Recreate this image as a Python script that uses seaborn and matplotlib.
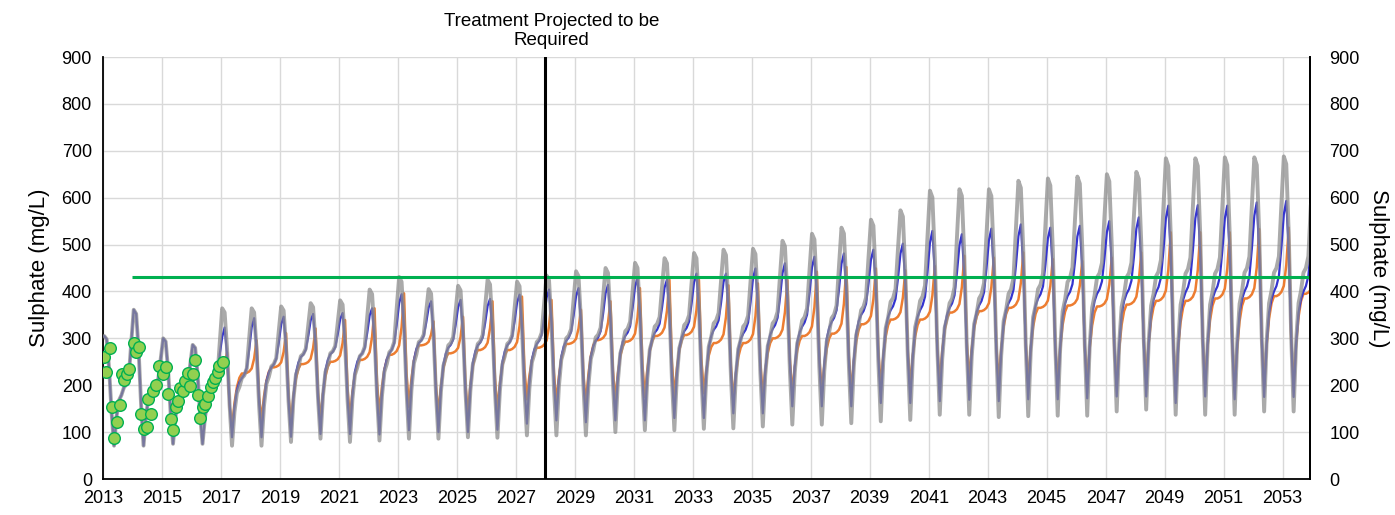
import numpy as np
import pandas as pd
import matplotlib
matplotlib.use("Agg")
import matplotlib.pyplot as plt
import seaborn as sns

# ---------------- data ----------------
cycle_years = list(range(2013, 2054))  # 2013..2053

# grey series: yearly peak (2013..2054), trough and late-year level (2013..2053)
grey_peak = [305, 361, 300, 286, 364, 364, 368, 375, 381, 404, 431, 405, 412, 425,
             421, 434, 443, 450, 461, 471, 482, 489, 491, 508, 523, 536, 553, 573,
             615, 618, 618, 636, 641, 645, 650, 655, 684, 684, 686, 686, 688, 690]
grey_trough = [71, 71, 75, 75, 71, 71, 79, 86, 79, 82, 86, 86, 89, 88, 93, 93, 93,
               100, 104, 104, 107, 108, 112, 116, 116, 119, 123, 126, 137, 137, 132,
               134, 135, 135, 144, 148, 137, 137, 137, 144, 144]
grey_level = [195, 200, 190, 188, 215, 240, 262, 268, 262, 270, 292, 285, 288, 288,
              292, 300, 302, 315, 325, 328, 332, 325, 332, 338, 343, 360, 378, 380,
              375, 385, 395, 405, 420, 430, 430, 432, 438, 438, 440, 440, 440]

# blue series
blue_peak = [305, 361, 300, 286, 323, 343, 346, 352, 354, 364, 394, 379, 382, 384,
             393, 404, 407, 414, 429, 425, 438, 438, 449, 460, 474, 481, 489, 502,
             529, 522, 534, 543, 536, 540, 550, 558, 583, 584, 583, 590, 593, 595]
blue_trough = [71, 71, 75, 75, 89, 89, 90, 96, 96, 95, 104, 100, 100, 105, 118, 125,
               121, 125, 125, 130, 130, 140, 140, 155, 155, 155, 162, 162, 166, 169,
               166, 170, 170, 172, 176, 176, 162, 176, 170, 175, 175]
blue_level = [195, 200, 190, 188, 215, 238, 260, 266, 262, 268, 290, 280, 285, 285,
              288, 295, 295, 305, 312, 315, 318, 310, 320, 325, 335, 350, 360, 360,
              365, 370, 375, 385, 390, 395, 395, 398, 398, 400, 400, 400, 400]
blue_own_shape_from = 2017   # before this the blue run follows the grey one

# orange series (from 2017)
orange_years = list(range(2017, 2054))
orange_peak = [270, 296, 311, 321, 339, 364, 396, 336, 346, 379, 389, 382, 361, 379,
               407, 425, 425, 413, 417, 424, 442, 452, 449, 445, 454, 476, 472, 483,
               469, 465, 472, 483, 526, 526, 526, 533, 536, 540]
orange_trough = [110, 125, 120, 125, 130, 139, 154, 139, 139, 146, 170, 161, 161, 168,
                 175, 175, 183, 169, 176, 183, 183, 183, 197, 198, 205, 212, 205, 205,
                 205, 205, 198, 215, 198, 201, 190, 198, 198]
orange_level = [225, 238, 245, 250, 254, 265, 285, 268, 275, 275, 280, 288, 296, 293,
                305, 307, 290, 290, 300, 305, 310, 330, 340, 340, 355, 358, 365, 365,
                370, 368, 372, 380, 380, 385, 385, 390, 395]
orange_level_before = 225

# within-year shape, Jan..Dec
shape_grey = [("pk", 1.0), ("pk", 0.97), ("pk", 0.7), ("pk", 0.3), ("pk", 0.0),
              ("up", 0.5), ("up", 0.78), ("up", 0.87), ("up", 1.0),
              ("ld", 0.04), ("ld", 0.14), ("ld", 0.58)]
shape_blue = [("pre", 0.85), ("pk", 1.0), ("pk", 0.75), ("pk", 0.3), ("pk", 0.0),
              ("up", 0.5), ("up", 0.8), ("up", 0.93), ("up", 1.0),
              ("ld", 0.06), ("ld", 0.17), ("ld", 0.48)]
shape_orange = [("pre", 0.15), ("pre", 0.45), ("pk", 1.0), ("pk", 0.3), ("pk", 0.0),
                ("up", 0.45), ("up", 0.75), ("up", 0.92), ("up", 1.0),
                ("ld", 0.0), ("ld", 0.02), ("ld", 0.06)]

# observed points
obs_year = [2013.05, 2013.11, 2013.23, 2013.29, 2013.38, 2013.49, 2013.56, 2013.63,
            2013.72, 2013.81, 2013.88, 2014.06, 2014.13, 2014.22, 2014.29, 2014.38,
            2014.48, 2014.54, 2014.64, 2014.71, 2014.80, 2014.89, 2015.05, 2015.12,
            2015.21, 2015.29, 2015.37, 2015.47, 2015.54, 2015.62, 2015.72, 2015.79,
            2015.87, 2015.95, 2016.06, 2016.13, 2016.21, 2016.30, 2016.39, 2016.47,
            2016.57, 2016.65, 2016.73, 2016.81, 2016.89, 2016.95, 2017.07]
obs_value = [261, 228, 280, 153, 87, 122, 157, 223, 211, 225, 235, 289, 271, 281,
             139, 106, 110, 170, 139, 188, 200, 240, 224, 239, 181, 129, 104, 153,
             166, 194, 187, 210, 226, 199, 224, 253, 179, 131, 154, 160, 176, 197,
             207, 216, 228, 242, 249]

threshold_value = 430
threshold_start = 2014.0
treatment_year = 2028.0
x_start, x_end = 2013.0, 2053.93
ytick_values = list(range(0, 1000, 100))
xtick_years = list(range(2013, 2054, 2))


def monthly(years, peak, trough, level, shapes, level_before=None):
    t, v = [], []
    for i, y in enumerate(years):
        P, T, L, Pn = peak[i], trough[i], level[i], peak[i + 1]
        Lp = level[i - 1] if i > 0 else (level_before if level_before is not None else L)
        shape = shapes(y)
        for m, (kind, f) in enumerate(shape):
            if kind == "pk":
                val = T + f * (P - T)
            elif kind == "up":
                val = T + f * (L - T)
            elif kind == "ld":
                val = L + f * (Pn - L)
            else:
                val = Lp + f * (P - Lp)
            t.append(y + (m + 0.5) / 12)
            v.append(val)
    return pd.DataFrame({"year": t, "value": v})


df_grey = monthly(cycle_years, grey_peak, grey_trough, grey_level, lambda y: shape_grey)
df_blue = monthly(cycle_years, blue_peak, blue_trough, blue_level,
                  lambda y: shape_blue if y >= blue_own_shape_from else shape_grey)
df_orange = monthly(orange_years, orange_peak, orange_trough, orange_level,
                    lambda y: shape_orange, orange_level_before)
df_obs = pd.DataFrame({"year": obs_year, "value": obs_value})

# ---------------- drawing ----------------
sns.set_theme(style="white")
plt.rcParams["font.family"] = ["Liberation Sans", "DejaVu Sans"]
plt.rcParams["text.color"] = "black"
plt.rcParams["axes.labelcolor"] = "black"

fig = plt.figure(figsize=(13.95, 5.15), dpi=100)
ax = fig.add_axes([103 / 1395, 1 - 479 / 515, (1310 - 103) / 1395, (479 - 57) / 515])

sns.lineplot(data=df_orange, x="year", y="value", color="#ED7D31", linewidth=1.8,
             ax=ax, zorder=3, estimator=None, sort=False)
sns.lineplot(data=df_blue, x="year", y="value", color="#3434D0", linewidth=1.6,
             ax=ax, zorder=4, estimator=None, sort=False)
sns.lineplot(data=df_grey, x="year", y="value", color="#8E8E8E", linewidth=2.8,
             alpha=0.75, ax=ax, zorder=5, estimator=None, sort=False)

ax.hlines(threshold_value, threshold_start, x_end, color="#00B050", linewidth=2.2, zorder=6)
ax.axvline(treatment_year, color="black", linewidth=2.2, zorder=7)

sns.scatterplot(data=df_obs, x="year", y="value", s=70, color="#92D050",
                edgecolor="#00B050", linewidth=1.0, ax=ax, zorder=8)

ax.set_xlim(x_start, x_end)
ax.set_ylim(0, 900)
ax.set_xticks(xtick_years)
ax.set_xticklabels([str(y) for y in xtick_years])
ax.set_yticks(ytick_values)
ax.set_yticklabels([str(v) for v in ytick_values])
ax.grid(True, color="#D9D9D9", linewidth=1.0)
ax.set_axisbelow(True)
ax.tick_params(axis="both", length=0, labelsize=13, colors="black")
ax.tick_params(axis="y", pad=8)
ax.tick_params(axis="x", pad=8)
ax.set_xlabel("")
ax.set_ylabel("Sulphate (mg/L)", fontsize=16, labelpad=8, color="black")

for s in ["left", "bottom", "right"]:
    ax.spines[s].set_visible(True)
    ax.spines[s].set_color("black")
    ax.spines[s].set_linewidth(1.3)
ax.spines["top"].set_visible(False)

ax2 = ax.twinx()
ax2.set_ylim(0, 900)
ax2.set_yticks(ytick_values)
ax2.set_yticklabels([str(v) for v in ytick_values])
ax2.tick_params(axis="y", length=0, labelsize=13, pad=14, colors="black")
ax2.set_ylabel("Sulphate (mg/L)", fontsize=16, rotation=270, labelpad=21, color="black")
for s in ["left", "bottom", "top"]:
    ax2.spines[s].set_visible(False)
ax2.spines["right"].set_color("black")
ax2.spines["right"].set_linewidth(1.3)
ax2.grid(False)

ax.text(treatment_year + 0.2, 1.018, "Treatment Projected to be\nRequired",
        transform=ax.get_xaxis_transform(), ha="center", va="bottom",
        fontsize=13.5, linespacing=1.15, color="black")

fig.savefig("out.png", dpi=100)
